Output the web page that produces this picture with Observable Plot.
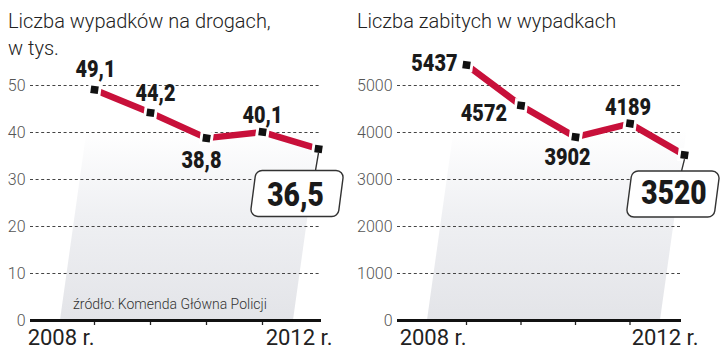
<!DOCTYPE html>
<html><head><meta charset="utf-8">
<script src="https://cdn.jsdelivr.net/npm/d3@7"></script>
<script src="https://cdn.jsdelivr.net/npm/@observablehq/plot@0.6"></script>
<style>
html,body{margin:0;padding:0;background:#fff;}
#wrap{position:relative;width:720px;height:361px;overflow:hidden;font-family:Roboto,"Open Sans",sans-serif;}
.chart{position:absolute;top:0;}
.chart svg{overflow:visible;}
.title{position:absolute;font-family:Roboto,sans-serif;font-weight:300;font-size:20px;line-height:27px;color:#222;white-space:nowrap;}
.source{position:absolute;font-family:Roboto,sans-serif;font-weight:300;font-size:14px;color:#333;white-space:nowrap;}
</style>
</head><body>
<div id="wrap">
  <div class="title" style="left:8px;top:8px;">Liczba wypadków na drogach,<br>w tys.</div>
  <div class="title" style="left:357px;top:8px;">Liczba zabitych w wypadkach</div>
  <div id="c1" class="chart" style="left:0px;"></div>
  <div id="c2" class="chart" style="left:360px;"></div>
  <div class="source" style="left:73px;top:296px;">źródło: Komenda Główna Policji</div>
</div>
<script>
// ---- data ----
const years = [2008, 2009, 2010, 2011, 2012];
const accidents = [49.1, 44.2, 38.8, 40.1, 36.5];   // thousands
const deaths = [5437, 4572, 3902, 4189, 3520];
const accidentTicks = [0, 10, 20, 30, 40, 50];
const deathTicks = [0, 1000, 2000, 3000, 4000, 5000];
const tickYears = [2008, 2009, 2010, 2011];
const firstYearLabel = "2008 r.";
const lastYearLabel = "2012 r.";

const RED = "#c8103a";
const labelFont = "Roboto, sans-serif";

function boxSymbol(cx, cy) {
  return {
    draw(ctx) {
      const w = 88, h = 46, s = 3, r = 7;
      const tl = [-w/2 + s, -h/2], tr = [w/2 + s, -h/2], br = [w/2 - s, h/2], bl = [-w/2 - s, h/2];
      ctx.moveTo((tl[0] + tr[0]) / 2, tl[1]);
      ctx.arcTo(tr[0], tr[1], br[0], br[1], r);
      ctx.arcTo(br[0], br[1], bl[0], bl[1], r);
      ctx.arcTo(bl[0], bl[1], tl[0], tl[1], r);
      ctx.arcTo(tl[0], tl[1], tr[0], tr[1], r);
      ctx.closePath();
      ctx.moveTo(cx, cy + 4);
      ctx.lineTo(cx - 3, -h/2);
    }
  };
}

function chart({values, ticks, fmt, xRange, marginLeft, labelOffsets, box}) {
  const data = years.map((year, i) => ({year, value: values[i]}));
  const last = data.slice(-1);
  const yMax = ticks[ticks.length - 1];
  const background = (index, scales, vals, dim) => {
    const g = d3.create("svg:g");
    const x0 = dim.marginLeft, yb = dim.height - dim.marginBottom;
    const id = "grad" + marginLeft;
    const defs = g.append("defs").append("linearGradient").attr("id", id)
      .attr("x1", 0).attr("y1", 1).attr("x2", 0).attr("y2", 0);
    defs.append("stop").attr("offset", 0).attr("stop-color", "#e3e4e8");
    defs.append("stop").attr("offset", 0.55).attr("stop-color", "#eff0f3");
    defs.append("stop").attr("offset", 1).attr("stop-color", "#ffffff");
    const top = yb - 190, sl = 0.14 * 190;
    g.append("path")
      .attr("d", `M${x0 + 30},${yb}L${x0 + 263},${yb}L${x0 + 263 + sl},${top}L${x0 + 30 + sl},${top}Z`)
      .attr("fill", `url(#${id})`);
    return g.node();
  };
  const labelMarks = labelOffsets.map(([dx, dy, anchor], i) =>
    Plot.text(data, {
      filter: (d, j) => j === i,
      x: "year", y: "value", text: d => fmt(d.value),
      dx, dy, textAnchor: anchor || "middle",
      fontSize: 24, fontWeight: 900, fontFamily: labelFont, fill: "#1a1a1a"
    })
  );
  return Plot.plot({
    width: 360, height: 361,
    marginLeft, marginRight: 39, marginTop: 85, marginBottom: 41,
    style: {fontFamily: "Roboto, sans-serif", background: "transparent", overflow: "visible"},
    x: {type: "linear", domain: [2008, 2012], range: xRange},
    y: {domain: [0, yMax]},
    marks: [
      background,
      Plot.gridY(ticks.filter(t => t > 0), {stroke: "#444", strokeOpacity: 1, strokeDasharray: "3,2.6", strokeWidth: 1}),
      Plot.axisY(ticks, {tickSize: 0, tickPadding: 5, tickFormat: d => String(d), fontSize: 16, fontWeight: 300, fill: "#555", label: null}),
      Plot.axisX(tickYears, {tickSize: 5, tickFormat: () => "", stroke: "#222", strokeWidth: 1.3, label: null}),
      Plot.ruleY([0], {stroke: "#111", strokeWidth: 3.2}),
      Plot.line(data, {x: "year", y: "value", stroke: RED, strokeWidth: 6.5}),
      Plot.dot(data, {x: "year", y: "value", symbol: "square", r: 7.5, fill: "white", rotate: 8}),
      Plot.dot(data, {x: "year", y: "value", symbol: "square", r: 4.3, fill: "#111", rotate: 8}),
      ...labelMarks,
      Plot.dot(last, {x: "year", y: "value", symbol: boxSymbol(box.cx, box.cy), r: 10,
        dx: box.dx, dy: box.dy, fill: "white", stroke: "#333", strokeWidth: 1.4}),
      Plot.text(last, {x: "year", y: "value", text: d => fmt(d.value), dx: box.tx, dy: box.ty,
        fontSize: 34, fontWeight: 900, fontFamily: labelFont, fill: "#1a1a1a"}),
      Plot.text([firstYearLabel], {x: () => 2008, frameAnchor: "bottom", text: d => d, textAnchor: "end",
        dx: 0, dy: 24, fontSize: 22, fill: "#222"}),
      Plot.text([lastYearLabel], {x: () => 2012, frameAnchor: "bottom", text: d => d, textAnchor: "end",
        dx: 14, dy: 24, fontSize: 22, fill: "#222"})
    ]
  });
}

const commaFmt = v => d3.format(".1f")(v).replace(".", ",");

document.getElementById("c1").append(chart({
  values: accidents, ticks: accidentTicks, fmt: commaFmt,
  xRange: [94, 318], marginLeft: 30,
  labelOffsets: [[1, -20], [5, -19], [-5, 22], [0, -17]],
  box: {dx: -21.5, dy: 44.5, cx: 21.5, cy: -44.5, tx: -23, ty: 46}
}));

document.getElementById("c2").append(chart({
  values: deaths, ticks: deathTicks, fmt: d3.format("d"),
  xRange: [106, 324], marginLeft: 37,
  labelOffsets: [[-9, -2, "end"], [-14, 8, "end"], [-8, 20], [-2, -16]],
  box: {dx: -11.5, dy: 39, cx: 11.5, cy: -39, tx: -10.5, ty: 38}
}));

// condensed look for the value labels: narrow the glyphs horizontally about each label's anchor
document.querySelectorAll('g[font-weight="900"] text').forEach(t => {
  const tr = t.getAttribute("transform") || "";
  t.setAttribute("transform", tr + " scale(0.83,1)");
});
</script>
</body></html>
